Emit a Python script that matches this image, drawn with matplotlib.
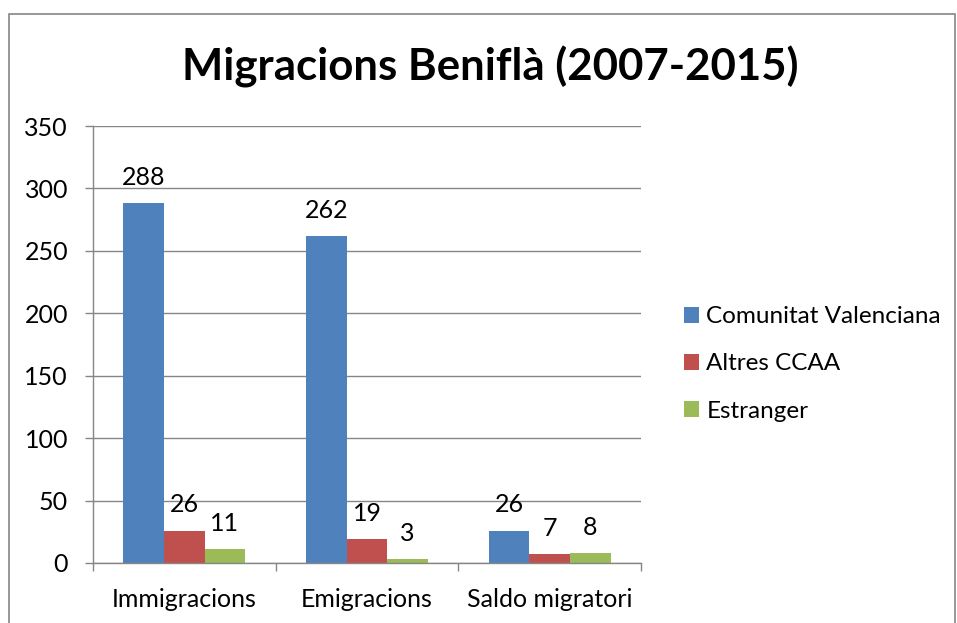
import matplotlib.pyplot as plt
import numpy as np
from matplotlib.patches import Rectangle

plt.rcParams["font.family"] = ["Lato", "DejaVu Sans"]

categories = ["Immigracions", "Emigracions", "Saldo migratori"]
series_names = ["Comunitat Valenciana", "Altres CCAA", "Estranger"]
comunitat = [288, 262, 26]
altres = [26, 19, 7]
estranger = [11, 3, 8]
colors = ["#4F81BD", "#C0504D", "#9BBB59"]
yticks = [0, 50, 100, 150, 200, 250, 300, 350]

fig = plt.figure(figsize=(9.57, 6.23), dpi=100)
ax = fig.add_axes([93 / 957, 1 - 563 / 623, 548 / 957, 437 / 623])

x = np.arange(len(categories))
w = 1 / 4.5
for i, (vals, name, col) in enumerate(zip([comunitat, altres, estranger], series_names, colors)):
    pos = x + (i - 1) * w
    ax.bar(pos, vals, w, color=col, label=name, zorder=3)
    for p, v in zip(pos, vals):
        ax.annotate(str(v), (p, v), xytext=(0, 13), textcoords="offset points",
                    ha="center", va="baseline", fontsize=18)

ax.set_xlim(-0.5, 2.5)
ax.set_ylim(0, 350)
ax.set_yticks(yticks)
ax.tick_params(axis="y", labelsize=18, length=6, width=1, color="#868686", pad=12)
ax.set_xticks(x)
ax.set_xticklabels(categories)
ax.tick_params(axis="x", which="major", labelsize=18, length=0, pad=18)
ax.set_xticks([-0.5, 0.5, 1.5, 2.5], minor=True)
ax.tick_params(axis="x", which="minor", length=6, width=1, color="#868686")
ax.grid(axis="y", color="#868686", linewidth=1, zorder=0)
for s in ["top", "right"]:
    ax.spines[s].set_visible(False)
for s in ["left", "bottom"]:
    ax.spines[s].set_color("#868686")
    ax.spines[s].set_linewidth(1)
    ax.spines[s].set_zorder(4)

fig.text(490 / 957, 1 - 80 / 623, "Migracions Beniflà (2007-2015)", ha="center",
         va="baseline", fontsize=31.5, fontweight="bold")

leg = ax.legend(loc="center left", bbox_to_anchor=(684 / 957, 1 - 364 / 623),
                bbox_transform=fig.transFigure, frameon=False, fontsize=17.5,
                handlelength=0.62, handleheight=0.62, handletextpad=0.3,
                labelspacing=1.08, borderpad=0, borderaxespad=0)

fig.patches.append(Rectangle((9 / 957, -0.05), 946 / 957, 1.05 - 14 / 623,
                             transform=fig.transFigure, fill=False,
                             edgecolor="#868686", linewidth=1.2))

fig.savefig("out.png", dpi=100)
